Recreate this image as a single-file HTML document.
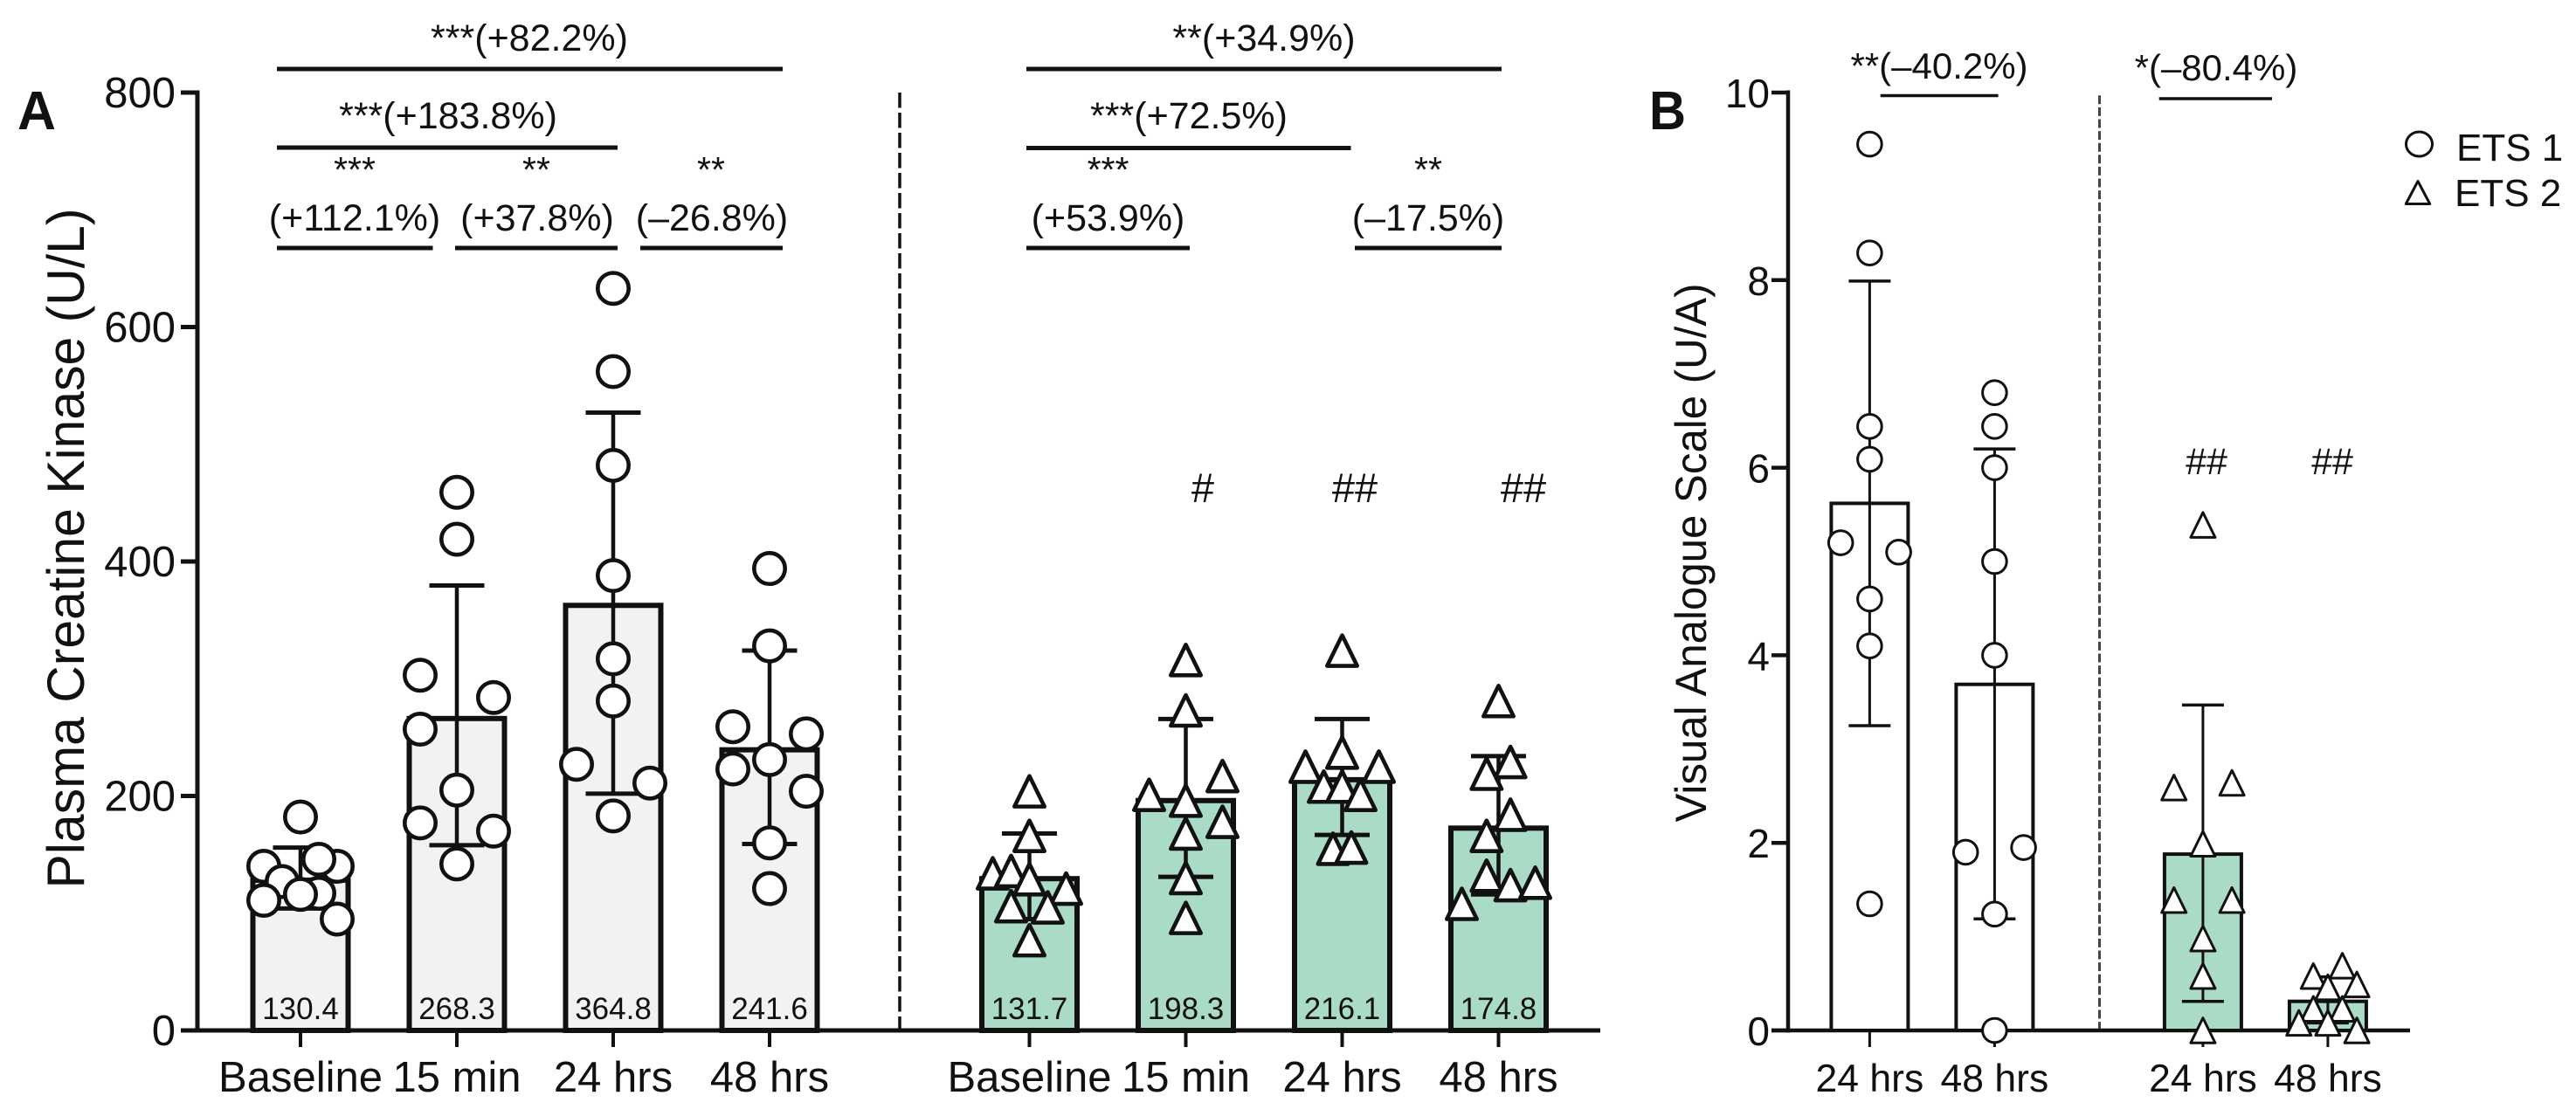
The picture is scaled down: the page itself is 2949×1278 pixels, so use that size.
<!DOCTYPE html>
<html lang="en">
<head>
<meta charset="utf-8">
<title>Plasma Creatine Kinase and Visual Analogue Scale</title>
<style>
html,body{margin:0;padding:0;background:#fff;}
svg{display:block;}
text{font-family:"Liberation Sans",Arial,sans-serif;fill:#111;}
</style>
</head>
<body>
<svg id="chart" width="2949" height="1278" viewBox="0 0 2949 1278" xmlns="http://www.w3.org/2000/svg">
  <rect x="0" y="0" width="2949" height="1278" fill="#ffffff"/>

  <text x="20" y="148" font-size="62" font-weight="700" textLength="44" lengthAdjust="spacingAndGlyphs">A</text>
  <text x="1888" y="148" font-size="62" font-weight="700" textLength="42" lengthAdjust="spacingAndGlyphs">B</text>

  <text transform="translate(96,628) rotate(-90)" text-anchor="middle" font-size="60" textLength="779" lengthAdjust="spacingAndGlyphs">Plasma Creatine Kinase (U/L)</text>
  <text transform="translate(1953,633) rotate(-90)" text-anchor="middle" font-size="50" textLength="617" lengthAdjust="spacingAndGlyphs">Visual Analogue Scale (U/A)</text>

  <line x1="1030" y1="106" x2="1030" y2="1180" stroke="#111" stroke-width="3.5" stroke-dasharray="17.5 5.5"/>
  <line x1="2403.5" y1="106" x2="2403.5" y2="1180" stroke="#444" stroke-width="3" stroke-dasharray="10 3.6" stroke-dashoffset="-3.3"/>

  <g id="annotations-a" stroke-linecap="butt">
    <text x="606" y="58" font-size="43" text-anchor="middle">***(+82.2%)</text>
    <line x1="317" y1="79" x2="896" y2="79" stroke="#111" stroke-width="5"/>
    <text x="513" y="147" font-size="43" text-anchor="middle">***(+183.8%)</text>
    <line x1="317" y1="169" x2="707" y2="169" stroke="#111" stroke-width="5"/>
    <text x="406" y="208" font-size="41" text-anchor="middle">***</text>
    <text x="614" y="208" font-size="41" text-anchor="middle">**</text>
    <text x="814" y="208" font-size="41" text-anchor="middle">**</text>
    <text x="406" y="264" font-size="43" text-anchor="middle">(+112.1%)</text>
    <text x="615" y="264" font-size="43" text-anchor="middle">(+37.8%)</text>
    <text x="815" y="264" font-size="43" text-anchor="middle">(–26.8%)</text>
    <line x1="317" y1="284" x2="495.5" y2="284" stroke="#111" stroke-width="5"/>
    <line x1="521" y1="284" x2="707" y2="284" stroke="#111" stroke-width="5"/>
    <line x1="733" y1="284" x2="896" y2="284" stroke="#111" stroke-width="5"/>

    <text x="1447" y="58" font-size="43" text-anchor="middle">**(+34.9%)</text>
    <line x1="1175" y1="79" x2="1719" y2="79" stroke="#111" stroke-width="5"/>
    <text x="1361" y="147" font-size="43" text-anchor="middle">***(+72.5%)</text>
    <line x1="1175" y1="169.5" x2="1546.5" y2="169.5" stroke="#111" stroke-width="5"/>
    <text x="1268.5" y="208" font-size="41" text-anchor="middle">***</text>
    <text x="1635" y="208" font-size="41" text-anchor="middle">**</text>
    <text x="1268.5" y="264" font-size="43" text-anchor="middle">(+53.9%)</text>
    <text x="1635" y="264" font-size="43" text-anchor="middle">(–17.5%)</text>
    <line x1="1175" y1="284" x2="1362" y2="284" stroke="#111" stroke-width="5"/>
    <line x1="1551" y1="284" x2="1719" y2="284" stroke="#111" stroke-width="5"/>

    <text x="1377" y="575" font-size="47" text-anchor="middle">#</text>
    <text x="1551" y="575" font-size="47" text-anchor="middle">##</text>
    <text x="1744" y="575" font-size="47" text-anchor="middle">##</text>
  </g>

  <g id="annotations-b">
    <text x="2220" y="90" font-size="42" text-anchor="middle">**(–40.2%)</text>
    <line x1="2152.7" y1="109.5" x2="2287.6" y2="109.5" stroke="#111" stroke-width="3.5"/>
    <text x="2537" y="92" font-size="42" text-anchor="middle">*(–80.4%)</text>
    <line x1="2471.7" y1="113" x2="2601" y2="113" stroke="#111" stroke-width="3.5"/>
    <text x="2526" y="543" font-size="43" text-anchor="middle">##</text>
    <text x="2670" y="543" font-size="43" text-anchor="middle">##</text>
  </g>

  <g id="legend">
    <g>
      <ellipse cx="2769.5" cy="165" rx="15" ry="14" fill="#fff" stroke="#111" stroke-width="3"/>
      <text x="2812" y="184" font-size="44">ETS 1</text>
    </g>
    <g>
      <polygon points="2768,207.5 2781.7,233.5 2754.3,233.5" fill="#fff" stroke="#111" stroke-width="3" stroke-linejoin="round"/>
      <text x="2810" y="236" font-size="44">ETS 2</text>
    </g>
  </g>

  <g id="panel-a"></g>
  <g id="panel-b"></g>
</svg>

<script>
/* ---------- Panel A data: plasma creatine kinase (U/L) ---------- */
const ckTicks = [0, 200, 400, 600, 800];
const ckCategories = ['Baseline', '15 min', '24 hrs', '48 hrs', 'Baseline', '15 min', '24 hrs', '48 hrs'];
const ckMeans = [130.4, 268.3, 364.8, 241.6, 131.7, 198.3, 216.1, 174.8];
const ckUpper = [156, 379.5, 527, 324, 168, 265.6, 265.6, 234];
const ckLower = [104, 158, 202, 159, 95, 131, 166.8, 116];

const ckEts1Baseline = [182, 140, 140, 146, 127, 117, 116, 111, 95];
const ckEts1Baseline_slots = [0, -2, 2, 1, -1, 1, 0, -2, 2];
const ckEts1Min15 = [459, 419, 303, 284, 257, 205, 177, 170, 142];
const ckEts1Min15_slots = [0, 0, -2, 2, -2, 0, -2, 2, 0];
const ckEts1Hrs24 = [633, 562, 482, 388, 317, 281, 227, 211, 183];
const ckEts1Hrs24_slots = [0, 0, 0, 0, 0, 0, -2, 2, 0];
const ckEts1Hrs48 = [394, 328, 259, 253, 231, 223, 204, 160, 121];
const ckEts1Hrs48_slots = [0, 0, -2, 2, 0, -2, 2, 0, 0];

const ckEts2Baseline = [204, 166, 134, 136, 129, 121, 106, 105, 77];
const ckEts2Baseline_slots = [0, 0, -2, -1, 0, 2, -1, 1, 0];
const ckEts2Min15 = [316, 273, 217, 201, 196, 178, 168, 130, 96];
const ckEts2Min15_slots = [0, 0, 2, -2, 0, 2, 0, 0, 0];
const ckEts2Hrs24 = [324, 237, 225, 225, 208, 208, 201, 155, 156];
const ckEts2Hrs24_slots = [0, 0, -2, 2, -1, 0, 1, -0.5, 0.5];
const ckEts2Hrs48 = [281, 229, 219, 184, 166, 132, 124, 126, 108];
const ckEts2Hrs48_slots = [0, 0.65, -0.65, 0.65, -0.65, -0.65, 0.65, 2, -2];

/* ---------- Panel B data: visual analogue scale (U/A) ---------- */
const vasTicks = [0, 2, 4, 6, 8, 10];
const vasCategories = ['24 hrs', '48 hrs', '24 hrs', '48 hrs'];
const vasMeans = [5.62, 3.69, 1.88, 0.31];
const vasUpper = [7.99, 6.2, 3.47, 0.57];
const vasLower = [3.25, 1.19, 0.31, 0.08];

const vasEts1Hrs24 = [9.45, 8.29, 6.44, 6.09, 5.2, 5.1, 4.6, 4.1, 1.35];
const vasEts1Hrs24_slots = [0, 0, 0, 0, -2, 2, 0, 0, 0];
const vasEts1Hrs48 = [6.8, 6.44, 6, 5, 4, 1.95, 1.9, 1.24, 0];
const vasEts1Hrs48_slots = [0, 0, 0, 0, 0, 2, -2, 0, 0];
const vasEts2Hrs24 = [5.39, 2.59, 2.64, 1.99, 1.39, 1.39, 0.98, 0.58, 0];
const vasEts2Hrs24_slots = [0, -2, 2, 0, -2, 2, 0, 0, 0];
const vasEts2Hrs48 = [0.69, 0.58, 0.49, 0.46, 0.23, 0.23, 0.08, 0.08, 0];
const vasEts2Hrs48_slots = [1, -1, 2, 0, -1, 1, -2, 0, 2];

/* ---------- helpers ---------- */
const SVG_NS = 'http://www.w3.org/2000/svg';
const INK = '#111111';
const GREY_FILL = '#f2f2f2';
const GREEN_FILL = '#aadbc6';
const WHITE_FILL = '#ffffff';

function add(parent, tag, attrs, name, content) {
  const el = document.createElementNS(SVG_NS, tag);
  for (const k in attrs) el.setAttribute(k, attrs[k]);
  
  
  if (content !== undefined) el.textContent = content;
  parent.appendChild(el);
  return el;
}

function drawCircle(g, cx, cy, r, sw, name) {
  add(g, 'circle', {cx: cx, cy: cy, r: r, fill: '#fff', stroke: INK, 'stroke-width': sw}, name);
}

function drawTriangle(g, cx, cy, hw, h, sw, name) {
  const top = cy - h / 2;
  const pts = cx + ',' + top + ' ' + (cx + hw) + ',' + (top + h) + ' ' + (cx - hw) + ',' + (top + h);
  add(g, 'polygon', {points: pts, fill: '#fff', stroke: INK, 'stroke-width': sw, 'stroke-linejoin': 'round'}, name);
}

function drawPanel(g, cfg) {
  /* y axis */
  add(g, 'line', {x1: cfg.axisX, y1: cfg.y(cfg.ticks[cfg.ticks.length - 1]) - 2.5, x2: cfg.axisX, y2: cfg.y(0) + 2.5, stroke: INK, 'stroke-width': cfg.axisW}, 'y-axis-line');
  cfg.ticks.forEach(function (t) {
    add(g, 'line', {x1: cfg.axisX - 19, y1: cfg.y(t), x2: cfg.axisX, y2: cfg.y(t), stroke: INK, 'stroke-width': cfg.axisW}, 'y-axis-tick');
    add(g, 'text', {x: cfg.axisX - cfg.tickGap, y: cfg.y(t) + 17, 'font-size': cfg.tickFont, 'text-anchor': 'end'}, 'y-axis-tick-label', String(t));
  });
  /* x axis */
  add(g, 'line', {x1: cfg.axisX - 19, y1: cfg.y(0), x2: cfg.axisEnd, y2: cfg.y(0), stroke: INK, 'stroke-width': cfg.axisW}, 'x-axis-line');
  cfg.categories.forEach(function (c, i) {
    const x = cfg.x(i);
    add(g, 'line', {x1: x, y1: cfg.y(0), x2: x, y2: cfg.y(0) + 19, stroke: INK, 'stroke-width': cfg.xTickW}, 'x-axis-tick');
    add(g, 'text', {x: x, y: 1250, 'font-size': cfg.catFont, 'text-anchor': 'middle'}, 'x-axis-category-label', c);
  });
  /* bars */
  cfg.means.forEach(function (m, i) {
    const x = cfg.x(i);
    const top = cfg.y(m) + cfg.barTopInset;
    add(g, 'rect', {x: x - cfg.barW / 2, y: top, width: cfg.barW, height: cfg.y(0) - top, fill: cfg.fills[i], stroke: INK, 'stroke-width': cfg.barStroke}, 'bar-' + cfg.ids[i]);
  });
  /* error bars */
  cfg.means.forEach(function (m, i) {
    const x = cfg.x(i);
    add(g, 'line', {x1: x, y1: cfg.y(cfg.upper[i]), x2: x, y2: cfg.y(cfg.lower[i]), stroke: INK, 'stroke-width': cfg.errW}, 'error-bar-' + cfg.ids[i]);
    add(g, 'line', {x1: x - cfg.capHalf, y1: cfg.y(cfg.upper[i]), x2: x + cfg.capHalf, y2: cfg.y(cfg.upper[i]), stroke: INK, 'stroke-width': cfg.capW}, 'error-cap-upper-' + cfg.ids[i]);
    add(g, 'line', {x1: x - cfg.capHalf, y1: cfg.y(cfg.lower[i]), x2: x + cfg.capHalf, y2: cfg.y(cfg.lower[i]), stroke: INK, 'stroke-width': cfg.capW}, 'error-cap-lower-' + cfg.ids[i]);
  });
  /* individual points */
  cfg.points.forEach(function (vals, i) {
    const slots = cfg.slots[i];
    vals.forEach(function (v, j) {
      const px = cfg.x(i) + slots[j] * cfg.slotW;
      const py = cfg.y(v);
      if (cfg.shapes[i] === 'circle') {
        drawCircle(g, px, py, cfg.r, cfg.markStroke, 'point-' + cfg.ids[i]);
      } else {
        drawTriangle(g, px, py, cfg.triHalf, cfg.triH, cfg.markStroke, 'point-' + cfg.ids[i]);
      }
    });
  });
  /* printed means */
  if (cfg.showMeans) {
    cfg.means.forEach(function (m, i) {
      add(g, 'text', {x: cfg.x(i), y: 1167, 'font-size': 35, 'text-anchor': 'middle'}, 'bar-value-' + cfg.ids[i], m.toFixed(1));
    });
  }
}

/* ---------- axis functions ---------- */
const GROUP_SHIFT_A = 1.662;
const GROUP_SHIFT_B = 1.668;
function yCk(v) { return 1180 - v * (1074 / 800); }
function xCk(i) { return 344 + 179 * (i + (i >= 4 ? GROUP_SHIFT_A - 1 : 0)); }
function yVas(v) { return 1180 - v * (1074 / 10); }
function xVas(i) { return 2140.4 + 143 * (i + (i >= 2 ? GROUP_SHIFT_B - 1 : 0)); }

drawPanel(document.getElementById('panel-a'), {
  ticks: ckTicks, categories: ckCategories, means: ckMeans, upper: ckUpper, lower: ckLower,
  points: [ckEts1Baseline, ckEts1Min15, ckEts1Hrs24, ckEts1Hrs48, ckEts2Baseline, ckEts2Min15, ckEts2Hrs24, ckEts2Hrs48],
  slots: [ckEts1Baseline_slots, ckEts1Min15_slots, ckEts1Hrs24_slots, ckEts1Hrs48_slots, ckEts2Baseline_slots, ckEts2Min15_slots, ckEts2Hrs24_slots, ckEts2Hrs48_slots],
  ids: ['ets1-baseline', 'ets1-15min', 'ets1-24hrs', 'ets1-48hrs', 'ets2-baseline', 'ets2-15min', 'ets2-24hrs', 'ets2-48hrs'],
  fills: [GREY_FILL, GREY_FILL, GREY_FILL, GREY_FILL, GREEN_FILL, GREEN_FILL, GREEN_FILL, GREEN_FILL],
  shapes: ['circle', 'circle', 'circle', 'circle', 'triangle', 'triangle', 'triangle', 'triangle'],
  x: xCk, y: yCk, axisX: 226, axisEnd: 1832, axisW: 5, tickGap: 25, tickFont: 49, catFont: 49, xTickW: 4,
  barW: 109, barStroke: 6, barTopInset: 3, errW: 4.5, capHalf: 31.5, capW: 5,
  slotW: 21, r: 17.7, markStroke: 4.6, triHalf: 17.2, triH: 35, showMeans: true
});

drawPanel(document.getElementById('panel-b'), {
  ticks: vasTicks, categories: vasCategories, means: vasMeans, upper: vasUpper, lower: vasLower,
  points: [vasEts1Hrs24, vasEts1Hrs48, vasEts2Hrs24, vasEts2Hrs48],
  slots: [vasEts1Hrs24_slots, vasEts1Hrs48_slots, vasEts2Hrs24_slots, vasEts2Hrs48_slots],
  ids: ['vas-ets1-24hrs', 'vas-ets1-48hrs', 'vas-ets2-24hrs', 'vas-ets2-48hrs'],
  fills: [WHITE_FILL, WHITE_FILL, GREEN_FILL, GREEN_FILL],
  shapes: ['circle', 'circle', 'triangle', 'triangle'],
  x: xVas, y: yVas, axisX: 2047, axisEnd: 2759, axisW: 4.5, tickGap: 21, tickFont: 46, catFont: 44.5, xTickW: 3,
  barW: 88, barStroke: 4, barTopInset: 0, errW: 3, capHalf: 24, capW: 3.5,
  slotW: 16.6, r: 13.8, markStroke: 3, triHalf: 14, triH: 28.5, showMeans: false
});
</script>
</body>
</html>
